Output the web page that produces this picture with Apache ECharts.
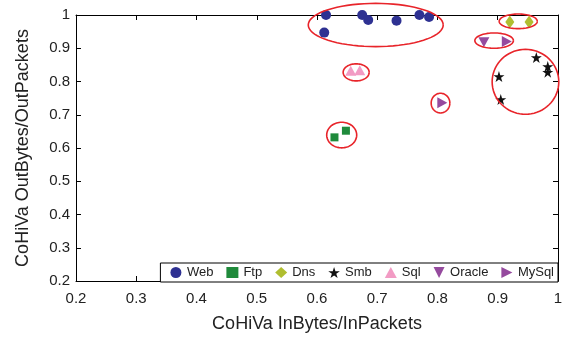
<!DOCTYPE html>
<html lang="en">
<head>
    <meta charset="UTF-8">
    <title>CoHiVa scatter</title>
    <script src="https://cdn.jsdelivr.net/npm/echarts@6/dist/echarts.min.js"></script>
    <style>
        html, body { margin: 0; padding: 0; background: #fff; }
        #chart { width: 573px; height: 338px; }
    </style>
</head>
<body>
    <div id="chart"></div>
    <script>
        // points: [InBytes/InPackets, OutBytes/OutPackets]
        var web = [[0.615, 1.0], [0.612, 0.947], [0.675, 1.0], [0.685, 0.985], [0.732, 0.983], [0.770, 1.0], [0.786, 0.994]];
        var ftp = [[0.629, 0.632], [0.648, 0.652]];
        var dns = [[0.920, 0.979], [0.952, 0.979]];
        var smb = [[0.964, 0.872], [0.983, 0.845], [0.983, 0.828], [0.902, 0.815], [0.905, 0.746]];
        var sql = [[0.656, 0.832], [0.671, 0.834]];
        var oracle = [[0.877, 0.918]];
        var mysql = [[0.915, 0.920], [0.808, 0.736]];

        // highlight ellipses: [cx, cy, rx, ry] in data units
        var rings = [
            [0.6975, 0.970, 0.112, 0.065],
            [0.934, 0.981, 0.0316, 0.022],
            [0.894, 0.923, 0.032, 0.023],
            [0.946, 0.799, 0.0553, 0.0976],
            [0.665, 0.8275, 0.0216, 0.0257],
            [0.805, 0.735, 0.0155, 0.0296],
            [0.641, 0.639, 0.0249, 0.0385]
        ];

        var starPath = 'path://M50,0L61.2,34.6L97.6,34.5L68.1,55.9L79.4,90.5L50,69L20.6,90.5L31.9,55.9L2.4,34.5L38.8,34.6Z';
        var downTri = 'path://M0,0L10,0L5,10Z';
        var rightTri = 'path://M0,0L10,5L0,10Z';

        var font = 'Liberation Sans, Arial, sans-serif';
        var chart = echarts.init(document.getElementById('chart'), null, { renderer: 'canvas' });

        function pts(name, data, symbol, size, color) {
            return {
                name: name,
                type: 'scatter',
                data: data,
                symbol: symbol,
                symbolSize: size,
                itemStyle: { color: color, opacity: 1 },
                z: 3
            };
        }

        function axisCommon(show) {
            return {
                min: 0.2, max: 1, interval: 0.1,
                axisLine: { show: true, onZero: false, lineStyle: { color: '#000', width: 1 } },
                axisTick: { show: true, inside: true, length: 5, lineStyle: { color: '#000' } },
                axisLabel: { show: show, color: '#222', fontSize: 15, fontFamily: font },
                splitLine: { show: false }
            };
        }

        var xMain = Object.assign(axisCommon(true), {
            type: 'value', position: 'bottom',
            name: 'CoHiVa InBytes/InPackets', nameLocation: 'middle', nameGap: 34,
            nameTextStyle: { color: '#222', fontSize: 18, fontFamily: font }
        });
        xMain.axisLabel.margin = 10;
        var xTop = Object.assign(axisCommon(false), { type: 'value', position: 'top' });
        var yMain = Object.assign(axisCommon(true), {
            type: 'value', position: 'left',
            name: 'CoHiVa OutBytes/OutPackets', nameLocation: 'middle', nameGap: 44,
            nameTextStyle: { color: '#222', fontSize: 18, fontFamily: font }
        });
        yMain.axisLabel.margin = 6;
        var yRight = Object.assign(axisCommon(false), { type: 'value', position: 'right' });

        var option = {
            animation: false,
            grid: { left: 76, right: 15, top: 15, bottom: 54 },
            xAxis: [xMain, xTop],
            yAxis: [yMain, yRight],
            legend: {
                data: ['Web', 'Ftp', 'Dns', 'Smb', 'Sql', 'Oracle', 'MySql'],
                right: 15, bottom: 56,
                orient: 'horizontal',
                borderColor: '#000', borderWidth: 1, borderRadius: 0,
                padding: [3, 4, 3, 10],
                itemWidth: 12, itemHeight: 11, itemGap: 13,
                textStyle: { color: '#222', fontSize: 13, fontFamily: font },
                backgroundColor: '#fff'
            },
            series: [
                pts('Web', web, 'circle', 10, '#2E3192'),
                pts('Ftp', ftp, 'rect', 8, '#1F8A3B'),
                pts('Dns', dns, 'diamond', [9, 13], '#B0BE30'),
                pts('Smb', smb, starPath, 11, '#111'),
                pts('Sql', sql, 'triangle', [11, 10], '#F29BC4'),
                pts('Oracle', oracle, downTri, [11, 10], '#954A9E'),
                pts('MySql', mysql, rightTri, [10, 11], '#954A9E'),
                {
                    type: 'custom',
                    data: rings,
                    silent: true,
                    z: 4,
                    renderItem: function (params, api) {
                        var c = api.coord([api.value(0), api.value(1)]);
                        var s = api.size([api.value(2), api.value(3)]);
                        var points = [];
                        for (var i = 0; i <= 72; i++) {
                            var a = i / 72 * Math.PI * 2;
                            points.push([c[0] + s[0] * Math.cos(a), c[1] + s[1] * Math.sin(a)]);
                        }
                        return {
                            type: 'polyline',
                            shape: { points: points },
                            style: { stroke: '#E8242A', lineWidth: 1.6, fill: null }
                        };
                    }
                }
            ]
        };

        chart.setOption(option);
    </script>
</body>
</html>
